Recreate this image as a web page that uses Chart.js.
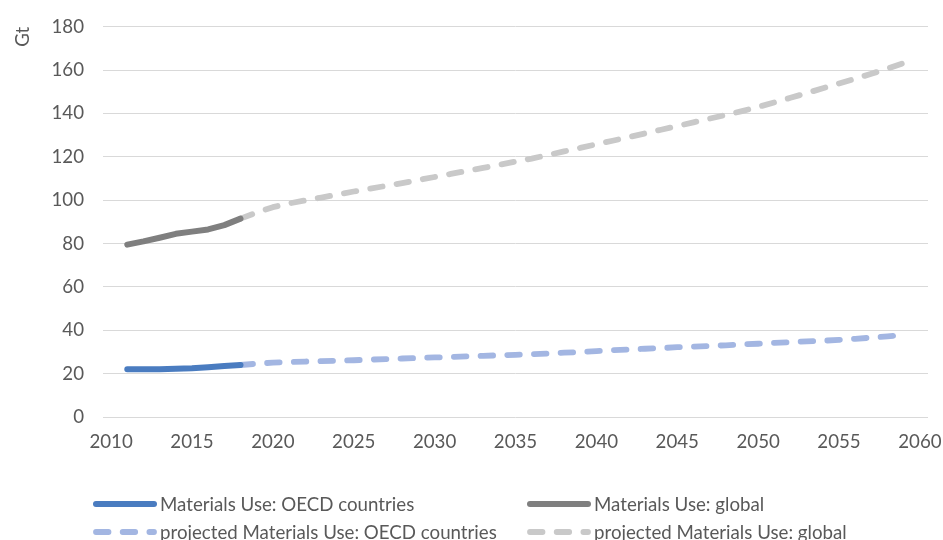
<!DOCTYPE html>
<html>
<head>
<meta charset="utf-8">
<script src="https://cdn.jsdelivr.net/npm/chart.js@4.4.1/dist/chart.umd.min.js"></script>
<style>
  html, body { margin: 0; padding: 0; background: #ffffff; }
  #wrap { position: relative; width: 943px; height: 540px; overflow: hidden; }
  #chart { position: absolute; left: 0; top: 0; }
  #legend {
    position: absolute; left: 93px; top: 490px;
    display: grid; grid-template-columns: 434px auto; grid-auto-rows: 28px;
    font-family: Lato, "Liberation Sans", sans-serif; font-size: 18.7px; color: #595959;
  }
  .item { display: flex; align-items: center; white-space: nowrap; }
  .item svg { flex: none; margin-right: 3px; }
</style>
</head>
<body>
<div id="wrap">
  <canvas id="chart" width="943" height="540"></canvas>
  <div id="legend"></div>
</div>
<script>
// Category axis: one slot per year, labelled every five years
const years = [];
for (let y = 2010; y <= 2060; y++) years.push(String(y));

const yTicks = [0, 20, 40, 60, 80, 100, 120, 140, 160, 180];

// Observed material use, Gt
const observedYears = ['2011', '2012', '2013', '2014', '2015', '2016', '2017', '2018'];
const oecdObserved   = [22.0, 22.0, 22.0, 22.3, 22.5, 23.0, 23.5, 24.0];
const globalObserved = [79.5, 81.0, 82.7, 84.5, 85.5, 86.5, 88.5, 91.5];

// Projected material use, Gt
const projectedYears = [
  '2018', '2019', '2020', '2021', '2022', '2023', '2024', '2025', '2026', '2027',
  '2028', '2029', '2030', '2031', '2032', '2033', '2034', '2035', '2036', '2037',
  '2038', '2039', '2040', '2041', '2042', '2043', '2044', '2045', '2046', '2047',
  '2048', '2049', '2050', '2051', '2052', '2053', '2054', '2055', '2056', '2057',
  '2058', '2059'
];
const oecdProjected = [
  24.0, 24.6, 25.1, 25.4, 25.6, 25.8, 26.0, 26.2, 26.5, 26.7,
  27.0, 27.2, 27.5, 27.7, 28.0, 28.2, 28.5, 28.7, 29.0, 29.3,
  29.7, 30.0, 30.4, 30.8, 31.1, 31.5, 31.8, 32.2, 32.5, 32.8,
  33.1, 33.5, 33.8, 34.2, 34.5, 34.9, 35.2, 35.6, 36.1, 36.6,
  37.2, 37.9
];
const globalProjected = [
  91.5, 94.3, 96.8, 98.5, 99.9, 101.2, 102.6, 104.0, 105.3, 106.6,
  107.9, 109.3, 110.7, 112.1, 113.5, 114.9, 116.3, 117.8, 119.2, 120.8,
  122.5, 124.1, 125.8, 127.4, 129.1, 130.8, 132.5, 134.2, 135.9, 137.6,
  139.3, 141.1, 143.0, 145.1, 147.2, 149.4, 151.6, 153.8, 156.0, 158.3,
  160.7, 163.2
];

const seriesLabels = [
  'Materials Use: OECD countries',
  'Materials Use: global',
  'projected Materials Use: OECD countries',
  'projected Materials Use: global'
];

const FONT = 'Lato, "Liberation Sans", sans-serif';
const FONT_SIZE = 18.7;
const DASH = [12.5, 14.2];

function points(xs, ys) {
  return xs.map((x, i) => ({ x: x, y: ys[i] }));
}

function series(label, xs, ys, color, width, dash) {
  return {
    label: label,
    data: points(xs, ys),
    borderColor: color,
    backgroundColor: color,
    borderWidth: width,
    borderDash: dash,
    borderCapStyle: 'round',
    borderJoinStyle: 'round',
    pointRadius: 0,
    pointHoverRadius: 0,
    tension: 0,
    fill: false
  };
}

const chart = new Chart(document.getElementById('chart'), {
  type: 'line',
  data: {
    labels: years,
    datasets: [
      series(seriesLabels[0], observedYears, oecdObserved, '#4a7cc0', 6, []),
      series(seriesLabels[1], observedYears, globalObserved, '#7f7f7f', 6, []),
      series(seriesLabels[2], projectedYears, oecdProjected, '#a3b6e2', 5.8, DASH),
      series(seriesLabels[3], projectedYears, globalProjected, '#c9c9c9', 5.8, DASH)
    ]
  },
  options: {
    responsive: false,
    animation: false,
    layout: { padding: { left: 8, right: 15, top: 26.7, bottom: 72.5 } },
    plugins: {
      legend: { display: false },
      tooltip: { enabled: false }
    },
    scales: {
      x: {
        type: 'category',
        offset: true,
        grid: { display: false, drawTicks: false },
        border: { display: false },
        afterFit: function (scale) {
          // end labels may overhang the plot area
          scale.paddingLeft = 0;
          scale.paddingRight = 0;
        },
        ticks: {
          autoSkip: false,
          maxRotation: 0,
          minRotation: 0,
          padding: 14,
          color: '#595959',
          font: { family: FONT, size: FONT_SIZE },
          callback: function (value) {
            const label = this.getLabelForValue(value);
            return Number(label) % 5 === 0 ? label : '';
          }
        }
      },
      y: {
        min: 0,
        max: 180,
        afterBuildTicks: function (scale) {
          scale.ticks = yTicks.map(v => ({ value: v }));
        },
        afterFit: function (scale) {
          scale.width = 95;
          scale.paddingTop = 0;
          scale.paddingBottom = 0;
        },
        grid: { color: '#d9d9d9', lineWidth: 1, drawTicks: false },
        border: { display: false },
        ticks: {
          padding: 19,
          color: '#595959',
          font: { family: FONT, size: FONT_SIZE }
        },
        title: {
          display: true,
          text: 'Gt',
          align: 'end',
          color: '#595959',
          font: { family: FONT, size: FONT_SIZE, lineHeight: 1.2 },
          padding: { top: 4, bottom: 0 }
        }
      }
    }
  }
});

// Legend laid out as a two-column grid, built from the chart's datasets
const legend = document.getElementById('legend');
const SVGNS = 'http://www.w3.org/2000/svg';
chart.data.datasets.forEach(ds => {
  const item = document.createElement('div');
  item.className = 'item';
  const svg = document.createElementNS(SVGNS, 'svg');
  svg.setAttribute('width', '64');
  svg.setAttribute('height', '10');
  const line = document.createElementNS(SVGNS, 'line');
  line.setAttribute('x1', '3');
  line.setAttribute('x2', '61');
  line.setAttribute('y1', '5');
  line.setAttribute('y2', '5');
  line.setAttribute('stroke', ds.borderColor);
  line.setAttribute('stroke-width', ds.borderWidth);
  line.setAttribute('stroke-linecap', 'round');
  if (ds.borderDash && ds.borderDash.length) {
    line.setAttribute('stroke-dasharray', ds.borderDash.join(' '));
  }
  svg.appendChild(line);
  const text = document.createElement('span');
  text.textContent = ds.label;
  item.appendChild(svg);
  item.appendChild(text);
  legend.appendChild(item);
});
</script>
</body>
</html>
